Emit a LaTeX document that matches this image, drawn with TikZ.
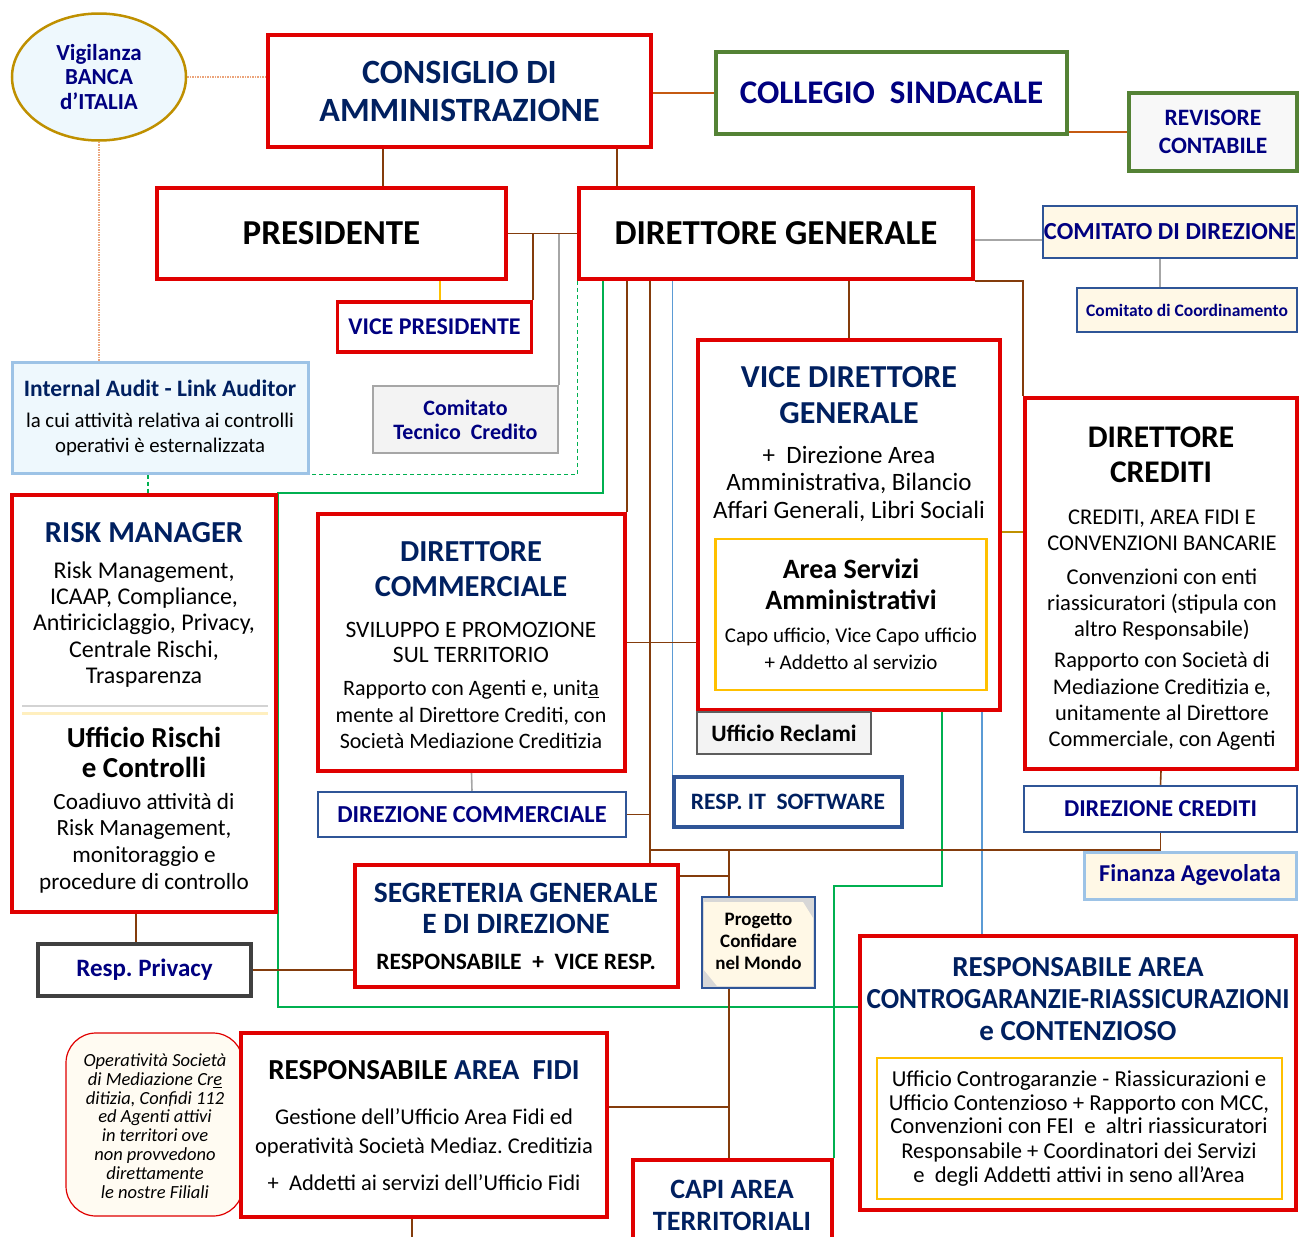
\documentclass[tikz,border=0pt]{standalone}
\usepackage{fontspec}
\setmainfont{Carlito}
\usetikzlibrary{shapes,positioning,backgrounds}

\definecolor{rojo}{HTML}{E00000}
\definecolor{azulosc}{HTML}{002060}
\definecolor{azulnav}{HTML}{000080}
\definecolor{marron}{HTML}{843C0C}
\definecolor{naranja}{HTML}{C55A11}
\definecolor{verdeb}{HTML}{548235}
\definecolor{verdel}{HTML}{00B050}
\definecolor{azulb}{HTML}{2F5597}
\definecolor{celeste}{HTML}{9DC3E6}
\definecolor{azull}{HTML}{5B9BD5}
\definecolor{gris}{HTML}{A6A6A6}
\definecolor{grisosc}{HTML}{404040}
\definecolor{grisfondo}{HTML}{F3F3F3}
\definecolor{oro}{HTML}{BF9000}
\definecolor{amarillo}{HTML}{FFC000}
\definecolor{crema}{HTML}{FFF8E6}
\definecolor{cielo}{HTML}{EEF8FD}
\definecolor{punteado}{HTML}{EBA57C}
\newcommand{\fsz}[2]{\fontsize{#1}{#2}\selectfont}
\frenchspacing

\begin{document}
\begin{tikzpicture}[x=1pt,y=-1pt]
            % Estilos
            \tikzstyle{caja}=[draw=rojo, line width=3.5pt, fill=white, inner sep=0pt, align=center]
            \tikzstyle{cajaverde}=[caja, draw=verdeb]
            \tikzstyle{cajaazul}=[caja, draw=azulb, line width=2.5pt]
            \tikzstyle{cajagialla}=[caja, draw=amarillo, line width=2.5pt]
            \tikzstyle{texto}=[inner sep=0pt, align=center]
            \tikzstyle{titolo}=[texto, text=azulosc, font=\fsz{30.5}{35}\bfseries]
            \tikzstyle{corpo}=[texto, font=\fsz{22}{26.5}]
            \tikzstyle{linea}=[marron, line width=1.6pt]
            \tikzstyle{lineanar}=[naranja, line width=1.6pt]
            \tikzstyle{lineagris}=[gris, line width=1.6pt]
            \tikzstyle{lineagialla}=[amarillo, line width=1.6pt]
            \tikzstyle{lineaoro}=[oro, line width=1.6pt]
            \tikzstyle{lineaazul}=[azull, line width=1.3pt]
            \tikzstyle{lineaverde}=[verdel, line width=1.6pt]
            \tikzstyle{verdetratt}=[verdel, line width=1.5pt, dash pattern=on 4pt off 3pt]
            \tikzstyle{puntini}=[punteado, line width=1.5pt, densely dotted]

            \useasboundingbox (0,0) rectangle (1299,1237);

            % Nodi
            \node[ellipse, draw=oro, line width=2.5pt, fill=cielo, minimum width=174pt, minimum height=127pt, inner sep=0pt, align=center, text=azulnav, font=\fsz{23}{24.5}\bfseries] (vigilanza) at (99,77) {Vigilanza\\BANCA\\d'ITALIA};
            \node[caja, minimum width=383pt, minimum height=112pt, text=azulosc, font=\fsz{34}{38}\bfseries] (consiglio) at (459.5,91) {CONSIGLIO DI\\AMMINISTRAZIONE};
            \node[cajaverde, minimum width=351pt, minimum height=82pt, text=azulnav, font=\fsz{33}{38}\bfseries] (collegio) at (891.5,93) {COLLEGIO~~SINDACALE};
            \node[cajaverde, fill=grisfondo!60, minimum width=168pt, minimum height=78pt, text=azulnav, font=\fsz{23.5}{28}\bfseries] (revisore) at (1213,132) {REVISORE\\CONTABILE};

            \node[caja, minimum width=349pt, minimum height=91pt, font=\fsz{35}{38}\bfseries] (presidente) at (331.5,233.5) {PRESIDENTE};
            \node[caja, minimum width=394pt, minimum height=91pt, font=\fsz{35}{38}\bfseries] (direttore) at (776,233.5) {DIRETTORE GENERALE};
            \node[cajaazul, line width=2pt, fill=crema, minimum width=254pt, minimum height=52pt, text=azulnav, font=\fsz{24.5}{28}\bfseries] (comdirezione) at (1170,232) {COMITATO DI DIREZIONE};
            \node[cajaazul, fill=crema, minimum width=220pt, minimum height=44pt, text=azulnav, font=\fsz{17.5}{22}\bfseries] (comcoord) at (1187,310) {Comitato di Coordinamento};

            \node[caja, minimum width=194pt, minimum height=50pt, text=azulnav, font=\fsz{24}{28}\bfseries] (vicepres) at (434.5,327) {VICE PRESIDENTE};
            \node[caja, draw=gris, line width=2.5pt, fill=grisfondo, minimum width=185pt, minimum height=67pt, text=azulnav, font=\fsz{22}{24}\bfseries] (comtecnico) at (465.5,419.5) {Comitato\\Tecnico~~Credito};

            \node[caja, draw=celeste, line width=3pt, fill=cielo, minimum width=296pt, minimum height=111pt] (audit) at (160,417.5) {};
            \node[texto, text=azulosc, font=\fsz{23.5}{26}\bfseries] (audit-t) at (160,388) {Internal Audit - Link Auditor};
            \node[texto, font=\fsz{20.8}{25}] (audit-b) at (160,434.5) {la cui attività relativa ai controlli\\operativi è esternalizzata};

            % Risk manager
            \node[caja, minimum width=264pt, minimum height=417pt] (risk) at (144,703.5) {};
            \node[titolo] (risk-t) at (144,533) {RISK MANAGER};
            \node[corpo, font=\fsz{24}{26.2}] (risk-b) at (144,624.5) {Risk Management,\\ICAAP, Compliance,\\Antiriciclaggio, Privacy,\\Centrale Rischi,\\Trasparenza};
            \draw[gris!50, line width=2pt] (22,706) -- (268,706);
            \draw[amarillo!25, line width=3pt] (22,713) -- (268,713);
            \node[texto, font=\fsz{29}{30}\bfseries] (rischi-t) at (144,752) {Ufficio Rischi\\e Controlli};
            \node[corpo, font=\fsz{23.2}{26.7}] (rischi-b) at (144,843) {Coadiuvo attività di\\Risk Management,\\monitoraggio e\\procedure di controllo};
            \node[caja, draw=grisosc, line width=4pt, minimum width=213pt, minimum height=52pt, text=azulnav, font=\fsz{25}{28}\bfseries] (privacy) at (144.5,970) {Resp. Privacy};

            % Direttore commerciale
            \node[caja, minimum width=307pt, minimum height=257pt] (dircomm) at (471.5,642.5) {};
            \node[titolo] (dircomm-t) at (471,569.5) {DIRETTORE\\COMMERCIALE};
            \node[corpo, font=\fsz{23.5}{25}] (dircomm-s) at (471,642.5) {SVILUPPO E PROMOZIONE\\SUL TERRITORIO};
            \node[corpo] (dircomm-b) at (471,714.5) {Rapporto con Agenti e, unit\underline{a}\\mente al Direttore Crediti, con\\Società Mediazione Creditizia};
            \node[cajaazul, minimum width=308pt, minimum height=45pt, text=azulnav, font=\fsz{24.4}{28}\bfseries] (direzcomm) at (472,814.5) {DIREZIONE COMMERCIALE};

            % Vice direttore
            \node[caja, minimum width=302pt, minimum height=370pt] (vicedir) at (849,525) {};
            \node[titolo, font=\fsz{32}{36}\bfseries] (vicedir-t) at (849,395) {VICE DIRETTORE\\GENERALE};
            \node[corpo, font=\fsz{25}{27.5}] (vicedir-b) at (849,483.5) {+~~Direzione Area\\Amministrativa, Bilancio\\Affari Generali, Libri Sociali};
            \node[cajagialla, minimum width=271pt, minimum height=151pt] (areaserv) at (851,614.5) {};
            \node[texto, font=\fsz{28}{31}\bfseries] (areaserv-t) at (851,584.5) {Area Servizi\\Amministrativi};
            \node[corpo, font=\fsz{21}{27}] (areaserv-b) at (851,648.5) {Capo ufficio, Vice Capo ufficio\\+ Addetto al servizio};
            \node[caja, draw=grisosc!85, line width=2.5pt, fill=grisfondo, minimum width=174pt, minimum height=42pt, font=\fsz{23.5}{25}\bfseries] (reclami) at (784,733) {Ufficio Reclami};
            \node[cajaazul, line width=3.5pt, minimum width=228pt, minimum height=50pt, text=azulosc, font=\fsz{23.5}{26}\bfseries] (itsoft) at (788,802) {RESP.~IT~~SOFTWARE};

            % Direttore crediti
            \node[caja, minimum width=272pt, minimum height=371pt] (dircred) at (1161,583.5) {};
            \node[texto, font=\fsz{31.5}{35}\bfseries] (dircred-t) at (1161,454.5) {DIRETTORE\\CREDITI};
            \node[corpo, font=\fsz{22.5}{26}] (dircred-s) at (1162,530) {CREDITI,~AREA FIDI~E\\CONVENZIONI BANCARIE};
            \node[corpo, font=\fsz{22.6}{26}] (dircred-c) at (1162,605) {Convenzioni con enti\\riassicuratori (stipula con\\altro Responsabile)};
            \node[corpo, font=\fsz{22.4}{26.3}] (dircred-r) at (1162,701.5) {Rapporto con Società di\\Mediazione Creditizia e,\\unitamente al Direttore\\Commerciale, con Agenti};
            \node[cajaazul, minimum width=273pt, minimum height=46pt, text=azulnav, font=\fsz{24.2}{28}\bfseries] (direzcred) at (1160.5,809) {DIREZIONE CREDITI};
            \node[caja, draw=celeste, line width=3pt, fill=crema, minimum width=212pt, minimum height=47pt, text=azulnav, font=\fsz{24.2}{28}\bfseries] (finanza) at (1190,875.5) {Finanza Agevolata};

            % Segreteria e progetto
            \node[caja, minimum width=323pt, minimum height=122pt] (segreteria) at (516.5,926) {};
            \node[titolo, font=\fsz{29.5}{31}\bfseries] (segreteria-t) at (516,908.5) {SEGRETERIA GENERALE\\E DI DIREZIONE};
            \node[texto, font=\fsz{23.5}{25}\bfseries] (segreteria-b) at (516,962) {RESPONSABILE~~+~~VICE RESP.};
            \node[cajaazul, fill=gris!45, minimum width=113pt, minimum height=91pt] (progetto) at (758.5,942.5) {};
            \fill[crema] (704,902) -- (803,902) -- (813,918) -- (813,986) -- (717,986) -- (704,970) -- cycle;
            \node[texto, font=\fsz{19}{22}\bfseries] (progetto-t) at (758.5,941) {Progetto\\Confidare\\nel Mondo};

            % Controgaranzie
            \node[caja, minimum width=436pt, minimum height=274pt] (controgar) at (1078,1073) {};
            \node[titolo, font=\fsz{29}{32}\bfseries] (controgar-t) at (1078,999.5) {RESPONSABILE AREA\\\scalebox{0.94}[1]{CONTROGARANZIE-RIASSICURAZIONI}\\e CONTENZIOSO};
            \node[cajagialla, minimum width=405pt, minimum height=141pt] (ufficiocg) at (1079.5,1128.5) {};
            \node[corpo, font=\fsz{22.8}{23.5}] (ufficiocg-a) at (1079,1102.5) {Ufficio Controgaranzie - Riassicurazioni e\\Ufficio Contenzioso + Rapporto con MCC,\\Convenzioni con FEI~~e~~altri riassicuratori};
            \node[corpo, font=\fsz{22.6}{24}] (ufficiocg-b) at (1079,1165) {Responsabile + Coordinatori dei Servizi\\e~~degli Addetti attivi in seno all’Area};

            % Area fidi
            \node[caja, line width=1.2pt, fill=crema!50, rounded corners=30pt, minimum width=177pt, minimum height=183pt] (operativita) at (154.5,1124.5) {};
            \node[texto, font=\fsz{18.5}{18.8}\itshape] (operativita-t) at (155,1126) {Operatività Società\\di Mediazione Cr\underline{e}\\ditizia, Confidi 112\\ed Agenti attivi\\in territori ove\\non provvedono\\direttamente\\le nostre Filiali};
            \node[caja, minimum width=366pt, minimum height=184pt] (areafidi) at (424,1125) {};
            \node[texto, font=\fsz{29}{32}\bfseries] (areafidi-t) at (424,1070) {RESPONSABILE \textcolor{azulosc}{AREA~~FIDI}};
            \node[corpo, font=\fsz{22.5}{29}] (areafidi-b) at (424,1132.5) {Gestione dell’Ufficio Area Fidi ed\\operatività Società Mediaz. Creditizia};
            \node[corpo, font=\fsz{22.5}{26}] (areafidi-c) at (424,1183) {+~~Addetti ai servizi dell’Ufficio Fidi};
            \node[caja, minimum width=199pt, minimum height=90pt] (capiarea) at (732.5,1205) {};
            \node[titolo, font=\fsz{28}{32}\bfseries] (capiarea-t) at (732,1205.5) {CAPI~AREA\\TERRITORIALI};

            % Punti di passaggio
            \coordinate (p136) at (136,0);
            \coordinate (p148) at (148,0);
            \coordinate (p383) at (383,0);
            \coordinate (p412) at (412,0);
            \coordinate (p440) at (440,0);
            \coordinate (p603) at (603,0);
            \coordinate (p617) at (617,0);
            \coordinate (p650) at (650,0);
            \coordinate (p729) at (729,0);
            \coordinate (p942) at (942,0);
            \coordinate (p982) at (982,0);
            \coordinate (p1160) at (1160,0);
            \coordinate (q240) at (0,240);
            \coordinate (q532) at (0,532);
            \coordinate (q850) at (0,850);
            \coordinate (q876) at (0,876);
            \coordinate (q886) at (0,886);
            \coordinate (q1007) at (0,1007);
            \coordinate (q1107) at (0,1107);
            \coordinate (uscita) at (412,1245);

            % Linee
            \begin{scope}[on background layer]
            \draw[puntini] (vigilanza.east) -- (vigilanza.east -| consiglio.west);
            \draw[puntini] (vigilanza.south) -- (vigilanza.south |- audit.north);
            \draw[linea] (consiglio.south -| p383) -- (presidente.north -| p383);
            \draw[linea] (consiglio.south -| p617) -- (direttore.north -| p617);
            \draw[lineanar] (consiglio.east |- collegio.west) -- (collegio.west);
            \draw[lineanar] (revisore.west) -- (revisore.west -| collegio.east);
            \draw[linea] (presidente.east) -- (direttore.west);
            \draw[linea] (presidente.east -| vicepres.north east) -- (vicepres.north east);
            \draw[lineagris] (presidente.east -| comtecnico.north east) -- (comtecnico.north east);
            \draw[lineagialla] (presidente.south -| p440) -- (vicepres.north -| p440);
            \draw[lineagris] (direttore.east |- q240) -- (comdirezione.west |- q240);
            \draw[lineagris] (comdirezione.south -| p1160) -- (comcoord.north -| p1160);
            \draw[verdetratt] (direttore.south west) |- (audit.south east);
            \draw[verdetratt] (audit.south -| p148) -- (risk.north -| p148);
            \draw[lineaverde] (direttore.south -| p603) |- (risk.north east) |- (controgar.west |- q1007);
            \draw[linea] (direttore.south -| dircomm.north east) -- (dircomm.north east);
            \draw[linea] (direttore.south -| p650) -- (segreteria.north -| p650);
            \draw[lineaazul] (direttore.south -| itsoft.north west) -- (itsoft.north west);
            \draw[linea] (direttore.south -| vicedir.north) -- (vicedir.north);
            \draw[linea] (direttore.south east) -| (dircred.north west);
            \draw[linea] (dircomm.east) -- (dircomm.east -| vicedir.west);
            \draw[linea] (direzcomm.east) -- (direzcomm.east -| p650);
            \draw[lineagris] (dircomm.south) -- (direzcomm.north);
            \draw[lineaoro] (vicedir.east |- q532) -- (dircred.west |- q532);
            \draw[lineaazul] (vicedir.south -| p982) -- (controgar.north -| p982);
            \draw[lineaverde] (vicedir.south -| p942) |- (capiarea.east |- q886) -- (capiarea.north east);
            \draw[linea] (dircred.south) -- (direzcred.north);
            \draw[linea] (direzcred.south) |- (q850 -| p650);
            \draw[linea] (q850 -| p729) -- (progetto.north -| p729);
            \draw[linea] (progetto.south -| p729) -- (capiarea.north -| p729);
            \draw[linea] (segreteria.east |- q876) -- (q876 -| p729);
            \draw[linea] (areafidi.east |- q1107) -- (q1107 -| p729);
            \draw[linea] (risk.south -| p136) -- (privacy.north -| p136);
            \draw[linea] (privacy.east) -- (privacy.east -| segreteria.west);
            \draw[linea] (areafidi.south -| p412) -- (uscita);
            \end{scope}
      \end{tikzpicture}
\end{document}
